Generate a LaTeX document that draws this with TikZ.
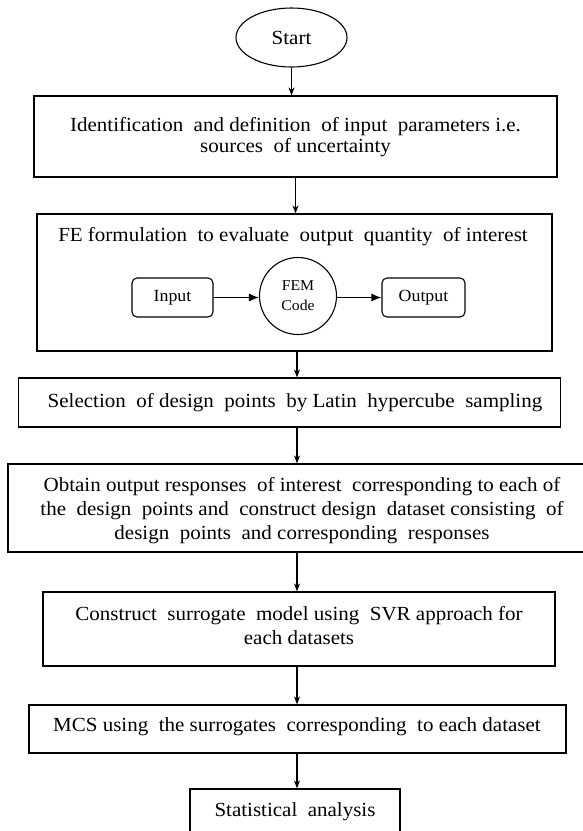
\documentclass[tikz,border=0pt]{standalone}
\usepackage{fontspec}
\setmainfont[FakeStretch=1.05]{Liberation Serif}
\usetikzlibrary{arrows.meta,shapes.geometric,calc}
\tikzset{
  box/.style={draw, line width=1.2pt, rectangle, inner sep=0pt},
  rbox/.style={draw, line width=1.1pt, rectangle, rounded corners=5pt, inner sep=0pt},
  txt/.style={inner sep=0pt, align=center, font=\fontsize{20}{23.5}\selectfont},
  arr/.style={draw, line width=1.1pt, -{Stealth[length=8pt,width=6pt]}},
  iarr/.style={draw, line width=1.1pt, -{Latex[length=10pt,width=8pt]}},
}
\begin{document}
\begin{tikzpicture}[x=1pt,y=-1pt]
\useasboundingbox (0,0) rectangle (582,831);
\fill[white] (0,0) rectangle (582,831);
\coordinate (ax) at (297,0);
% start
\node[ellipse, draw, line width=1.1pt, minimum width=111pt, minimum height=59pt, inner sep=0pt,
      font=\fontsize{20}{22}\selectfont] (s) at (291.5,37.5) {Start};
% box 1
\node[box, minimum width=523pt, minimum height=81pt] (b1) at (295.5,136.5) {};
\node[txt, font=\fontsize{20}{21}\selectfont] (t1) at (295.5,137) {Identification\ \ and definition\ \ of input\ \ parameters i.e.\\ sources\ \ of uncertainty};
% box 2
\node[box, minimum width=515pt, minimum height=137pt] (b2) at (294.5,282.5) {};
\node[txt] (t2) at (293,237) {FE formulation\ \ to evaluate\ \ output\ \ quantity\ \ of interest};
\node[rbox, minimum width=81pt, minimum height=39pt, font=\fontsize{17}{19}\selectfont] (in) at (172.5,297.5) {Input};
\node[circle, draw, line width=1.1pt, minimum size=77pt, inner sep=0pt, align=center,
      font=\fontsize{15}{20}\selectfont] (fem) at (298,296) {FEM\\Code};
\node[rbox, minimum width=83pt, minimum height=39pt, font=\fontsize{17}{19}\selectfont] (out) at (423.5,297.5) {Output};
% box 3
\node[box, minimum width=542pt, minimum height=49pt] (b3) at (289.5,402.5) {};
\node[txt] (t3) at (295,402.5) {Selection\ \ of design\ \ points\ \ by Latin\ \ hypercube\ \ sampling};
% box 4
\node[box, minimum width=578pt, minimum height=88pt] (b4) at (297,508) {};
\node[txt, font=\fontsize{20}{24}\selectfont] (t4) at (302,511) {Obtain\ output responses\ \ of interest\ \ corresponding\ to each of\\
 the\ \ design\ \ points\ and\ \ construct\ design\ \ dataset consisting\ \ of\\
 design\ \ points\ \ and corresponding\ \ responses};
% box 5
\node[box, minimum width=512pt, minimum height=74pt] (b5) at (299,629) {};
\node[txt, font=\fontsize{20}{24}\selectfont] (t5) at (299,626) {Construct\ \ surrogate\ \ model using\ \ SVR approach for\\ each datasets};
% box 6
\node[box, minimum width=537pt, minimum height=48pt] (b6) at (297.5,729) {};
\node[txt] (t6) at (297,727) {MCS using\ \ the surrogates\ \ corresponding\ \ to each dataset};
% box 7
\node[box, minimum width=210pt, minimum height=60pt] (b7) at (295,819) {};
\node[txt] (t7) at (295,812) {Statistical\ \ analysis};
% connectors
\draw[arr] (s.south) -- (s.south |- b1.north);
\draw[arr] (b1.south) -- (b1.south |- b2.north);
\draw[arr] (b2.south -| ax) -- (b3.north -| ax);
\draw[arr] (b3.south -| ax) -- (b4.north -| ax);
\draw[arr] (b4.south -| ax) -- (b5.north -| ax);
\draw[arr] (b5.south -| ax) -- (b6.north -| ax);
\draw[arr] (b6.south -| ax) -- (b7.north -| ax);
\draw[iarr] (in.east) -- (fem.west |- in.east);
\draw[iarr] (fem.east |- out.west) -- (out.west);
\end{tikzpicture}
\end{document}
